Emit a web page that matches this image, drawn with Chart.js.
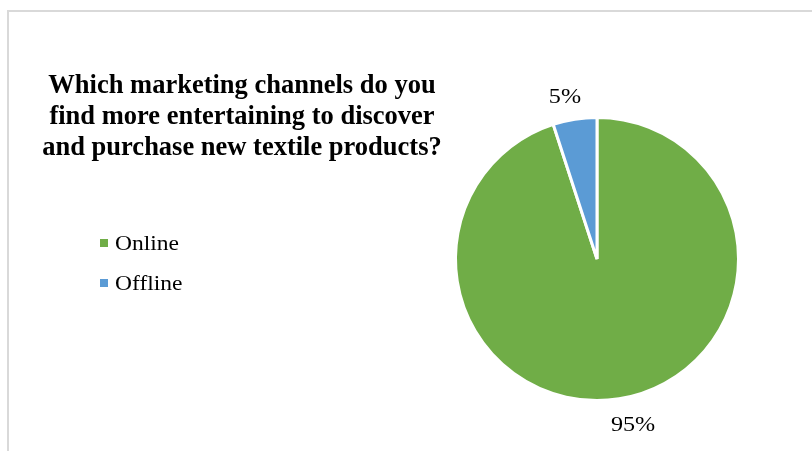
<!DOCTYPE html>
<html>
<head>
<meta charset="utf-8">
<script src="https://cdn.jsdelivr.net/npm/chart.js@4/dist/chart.umd.min.js"></script>
<style>
  html, body { margin: 0; padding: 0; background: #fff; }
  #wrap { position: relative; width: 812px; height: 451px; overflow: hidden; }
  #frame { position: absolute; left: 7px; top: 10px; right: -4px; bottom: -4px;
           border-top: 2px solid #d9d9d9; border-left: 2px solid #d9d9d9; }
  canvas { position: absolute; left: 0; top: 0; }
</style>
</head>
<body>
<div id="wrap">
  <div id="frame"></div>
  <canvas id="c" width="812" height="451"></canvas>
</div>
<script>
const titleLines = [
  'Which marketing channels do you',
  'find more entertaining to discover',
  'and purchase new textile products?'
];
const categories = ['Online', 'Offline'];
const shares = [95, 5];
const colors = ['#70AD47', '#5B9BD5'];

const SERIF = '"Liberation Serif", "Times New Roman", serif';

// draws text slightly widened around its anchor point
function wideText(ctx, text, x, y, sx) {
  ctx.save();
  ctx.translate(x, y);
  ctx.scale(sx, 1);
  ctx.fillText(text, 0, 0);
  ctx.restore();
}

// Title, legend and percentage labels drawn beside the pie
const decorations = {
  id: 'decorations',
  afterDraw(chart) {
    const ctx = chart.ctx;
    ctx.save();
    ctx.fillStyle = '#000';

    // title block, centred on the left side
    ctx.font = 'bold 26.5px ' + SERIF;
    ctx.textAlign = 'center';
    ctx.textBaseline = 'alphabetic';
    titleLines.forEach((line, i) => ctx.fillText(line, 242, 93 + i * 31));

    // legend
    ctx.font = '21px ' + SERIF;
    ctx.textAlign = 'left';
    ctx.textBaseline = 'middle';
    chart.data.labels.forEach((lab, i) => {
      const y = 243 + i * 40;
      ctx.fillStyle = chart.data.datasets[0].backgroundColor[i];
      ctx.fillRect(100, y - 4, 8, 8);
      ctx.fillStyle = '#000';
      wideText(ctx, lab, 115, y + 1, 1.12);
    });

    // percentage labels outside each slice
    const meta = chart.getDatasetMeta(0);
    ctx.textAlign = 'center';
    ctx.font = '21px ' + SERIF;
    meta.data.forEach((arc, i) => {
      const p = arc.getProps(['x', 'y', 'startAngle', 'endAngle', 'outerRadius'], true);
      const mid = (p.startAngle + p.endAngle) / 2;
      const r = p.outerRadius + 25;
      const c = Math.cos(mid), s = Math.sin(mid);
      const x = p.x + c * r + Math.sign(c) * 8 + 2;
      const y = p.y + s * r + 2.5;
      wideText(ctx, chart.data.datasets[0].data[i] + '%', x, y, 1.15);
    });
    ctx.restore();
  }
};

new Chart(document.getElementById('c'), {
  type: 'pie',
  data: {
    labels: categories,
    datasets: [{
      data: shares,
      backgroundColor: colors,
      borderColor: '#ffffff',
      borderWidth: 3
    }]
  },
  options: {
    responsive: false,
    animation: false,
    layout: { padding: { left: 454, right: 72, top: 116, bottom: 49 } },
    plugins: {
      legend: { display: false },
      tooltip: { enabled: false },
      title: { display: false }
    }
  },
  plugins: [decorations]
});
</script>
</body>
</html>
